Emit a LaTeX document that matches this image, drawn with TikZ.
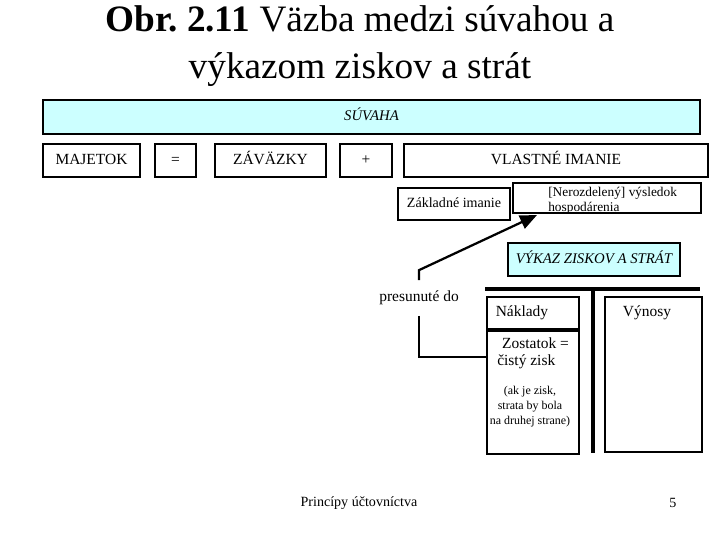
\documentclass[tikz,border=0pt]{standalone}
\usepackage{fontspec}
\setmainfont{Liberation Serif}
\usetikzlibrary{positioning, arrows.meta}
\definecolor{suvcyan}{RGB}{204,255,255}

\begin{document}
\begin{tikzpicture}[x=0.025cm, y=-0.025cm,
            box/.style={draw=black, line width=1.4pt, rectangle, inner sep=0pt, minimum height=0.825cm, text height=8pt, text depth=2.5pt, font=\fontsize{11}{13}\selectfont},
            headbox/.style={box, fill=suvcyan, font=\fontsize{10.5}{12}\selectfont\itshape},
            txt/.style={inner sep=0pt, font=\fontsize{11}{13}\selectfont},
            smalltxt/.style={inner sep=0pt, align=center, font=\fontsize{8.5}{10.7}\selectfont},
            edge/.style={line width=1.6pt},
            tline/.style={line width=3pt}
        ]
        \useasboundingbox (0,0) rectangle (720,540);

        % Titel
        \node[align=center, font=\fontsize{26.5}{33}\selectfont] (title) at (360,46) {\textbf{Obr.\ 2.11} Väzba medzi súvahou a\\výkazom ziskov a strát};

        % Knoten
        \node[headbox, minimum width=16.425cm, minimum height=0.85cm] (suv) at (371.5,117) {SÚVAHA};
        \node[box, minimum width=2.425cm] (maj) at (91.5,160.5) {MAJETOK};
        \node[box, minimum width=1.025cm, right=0.325cm of maj] (eq) {=};
        \node[box, minimum width=2.775cm, right=0.425cm of eq] (zav) {ZÁVÄZKY};
        \node[box, minimum width=1.3cm, right=0.3cm of zav] (plus) {+};
        \node[box, minimum width=7.6cm, right=0.25cm of plus] (vi) {VLASTNÉ IMANIE};

        \node[box, minimum width=2.8cm, minimum height=0.8cm, font=\fontsize{10}{12}\selectfont] (zakl) at (454,204) {Základné imanie};
        \node[box, minimum width=4.7cm, minimum height=0.75cm] (neroz) at (607,198) {};
        \node[txt, anchor=north west, align=left, font=\fontsize{9.5}{10.5}\selectfont] (nerozt) at (548,187) {[Nerozdelený] výsledok\\hospodárenia};

        \node[headbox, minimum width=4.3cm] (vzs) at (594,259.5) {VÝKAZ ZISKOV A STRÁT};

        \node[box, minimum width=2.3cm, minimum height=0.8cm, anchor=north west] (nakl) at (486,296) {};
        \node[txt] (naklt) at (522,313) {Náklady};
        \node[box, minimum width=2.3cm, minimum height=3.075cm, anchor=north] (zost) at (nakl.south) {};
        \node[txt, anchor=north west, align=left, font=\fontsize{11}{12.2}\selectfont] (zostt) at (497,337) {\hspace{3.5pt}Zostatok =\\čistý zisk};
        \node[smalltxt] (pozn) at (530,407) {(ak je zisk,\\strata by bola\\na druhej strane)};
        \node[box, minimum width=2.425cm, minimum height=3.875cm, anchor=north west] (vyn) at (604,296) {};
        \node[txt] (vynt) at (647,313) {Výnosy};

        \node[txt, inner ysep=7.5pt] (pres) at (419,298) {presunuté do};
        \coordinate (tip) at (537,215);
        \coordinate (zin) at (486,357);

        % T-konto
        \draw[tline] (485,289) -- (700,289);
        \draw[tline] (593,289) -- (593,453);

        % Kanten
        \draw[edge, -{Triangle[length=12pt, width=10pt]}] (pres.north) -- ++(0,-10) -- (tip);
        \draw[edge] (pres.south) |- (zin);

        % Fusszeile
        \node[txt, font=\fontsize{10}{12}\selectfont] (foot) at (359,503) {Princípy účtovníctva};
        \node[txt, font=\fontsize{10}{12}\selectfont] (page) at (673,503) {5};

    \end{tikzpicture}
\end{document}
